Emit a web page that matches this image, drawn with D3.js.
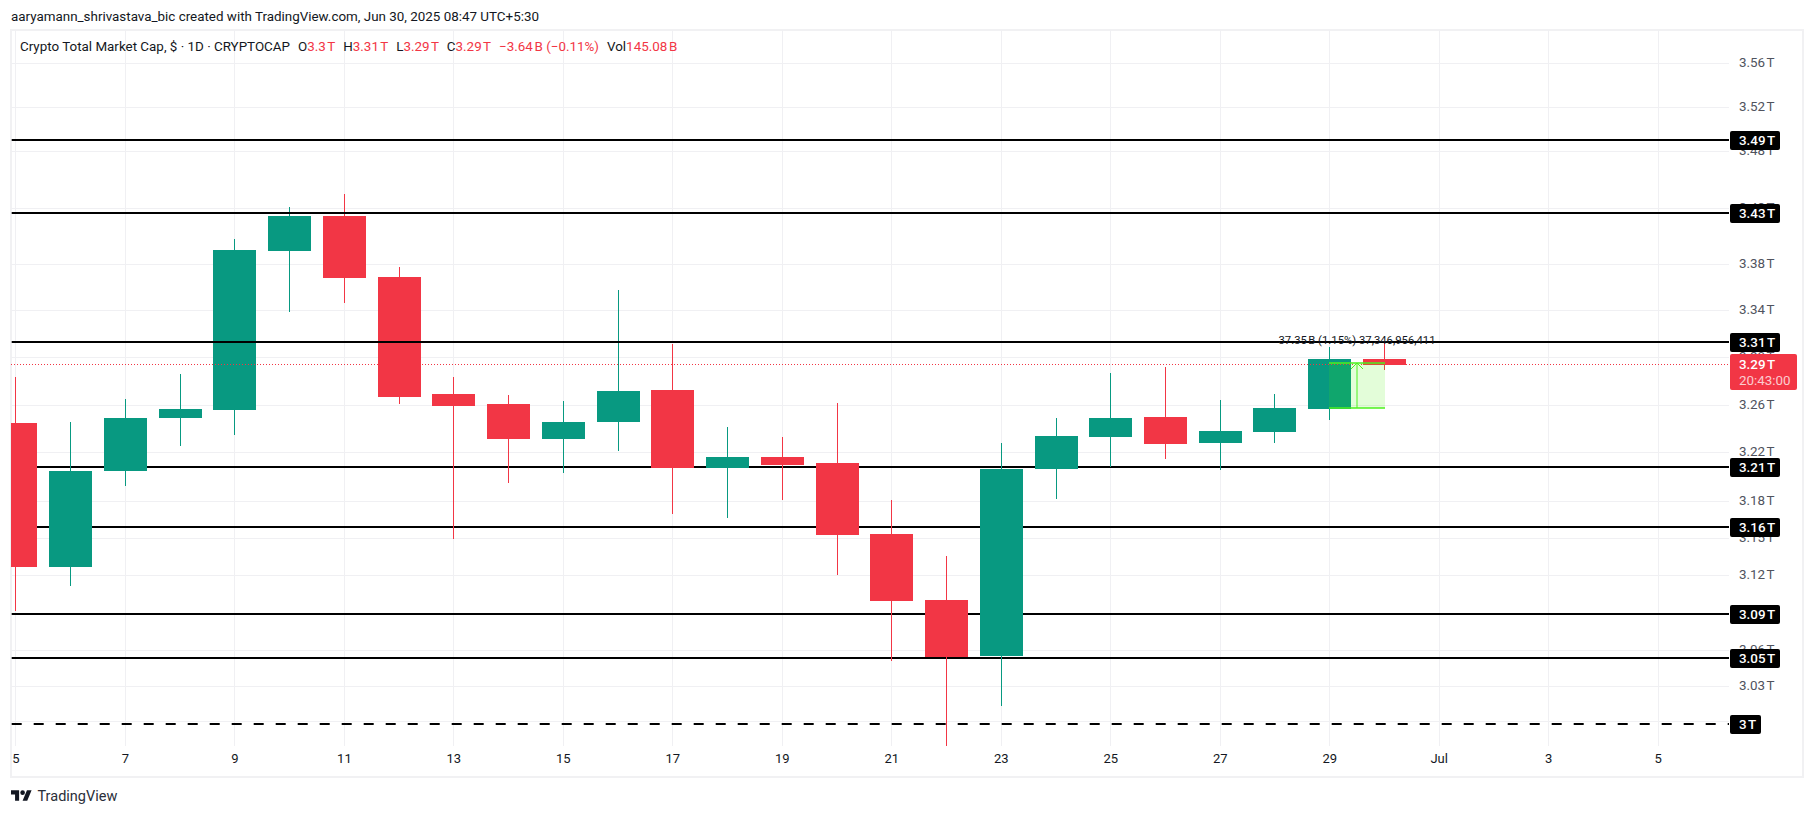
<!DOCTYPE html>
<html>
<head>
<meta charset="utf-8">
<title>Crypto Total Market Cap</title>
<script src="https://cdn.jsdelivr.net/npm/d3@7"></script>
<style>
html, body { margin: 0; padding: 0; background: #fff; overflow: hidden; }
svg { display: block; }
text { font-family: Roboto, "Liberation Sans", sans-serif; }
</style>
</head>
<body>
<script>
// candles, one per day of June 2025 (values in trillions)
var days   = [5, 6, 7, 8, 9, 10, 11, 12, 13, 14, 15, 16, 17, 18, 19, 20, 21, 22, 23, 24, 25, 26, 27, 28, 29, 30];
var opens  = [3.2430, 3.1243, 3.2030, 3.2473, 3.2540, 3.3908, 3.4217, 3.3681, 3.2675, 3.2590, 3.2296, 3.2439, 3.2709, 3.2056, 3.2146, 3.2096, 3.1511, 3.0977, 3.0531, 3.2046, 3.2313, 3.2481, 3.2263, 3.2355, 3.2548, 3.2972];
var highs  = [3.2819, 3.2439, 3.2632, 3.2845, 3.4014, 3.4297, 3.4412, 3.3768, 3.2819, 3.2666, 3.2616, 3.3568, 3.3102, 3.2397, 3.2313, 3.2599, 3.1790, 3.1332, 3.2263, 3.2473, 3.2853, 3.2904, 3.2624, 3.2675, 3.3076, 3.3110];
var lows   = [3.0891, 3.1090, 3.1906, 3.2238, 3.2330, 3.3377, 3.3455, 3.2590, 3.1470, 3.1930, 3.2014, 3.2196, 3.1675, 3.1642, 3.1790, 3.1178, 3.0492, 2.9828, 3.0138, 3.1798, 3.2063, 3.2130, 3.2038, 3.2263, 3.2455, 3.2878];
var closes = [3.1243, 3.2030, 3.2473, 3.2548, 3.3917, 3.4217, 3.3672, 3.2649, 3.2573, 3.2296, 3.2439, 3.2700, 3.2056, 3.2146, 3.2080, 3.1503, 3.0969, 3.0523, 3.2046, 3.2321, 3.2473, 3.2254, 3.2363, 3.2556, 3.2972, 3.2921];

// price axis, the real tick positions differ from the rounded labels
var tickValues = [3.5598, 3.5194, 3.4794, 3.4291, 3.3792, 3.3391, 3.2987, 3.2580, 3.2185, 3.1779, 3.1476, 3.1176, 3.0576, 3.0292, 3.0019];
var tickLabels = ["3.56", "3.52", "3.48", "3.43", "3.38", "3.34", "3.30", "3.26", "3.22", "3.18", "3.15", "3.12", "3.06", "3.03", "3"];

// date axis
var dateTicks = [5, 7, 9, 11, 13, 15, 17, 19, 21, 23, 25, 27, 29, 31, 33, 35];
var dateLabels = ["5", "7", "9", "11", "13", "15", "17", "19", "21", "23", "25", "27", "29", "Jul", "3", "5"];

// horizontal levels drawn by the author
var levelValues = [3.4900, 3.4244, 3.3118, 3.2063, 3.1568, 3.0865, 3.0517, 3.0000];
var levelLabels = ["3.49", "3.43", "3.31", "3.21", "3.16", "3.09", "3.05", "3"];
var levelsOnTop = ["3.43", "3.31"];
var dashedLevels = ["3"];

var lastPrice = 3.2927;
var lastPriceLabel = "3.29";
var countdown = "20:43:00";

// measure tool on the last two days
var measureDays = [29, 30];
var measurePrices = [3.2554, 3.2935];
var measureText = "37.35\u202fB (1.15%) 37,346,956,411";

var headerText = "aaryamann_shrivastava_bic created with TradingView.com, Jun 30, 2025 08:47 UTC+5:30";
var legendTitle = "Crypto Total Market Cap, $ \u00b7 1D \u00b7 CRYPTOCAP";
var legendNames = ["O", "H", "L", "C", "", "Vol"];
var legendValues = ["3.3\u202fT", "3.31\u202fT", "3.29\u202fT", "3.29\u202fT", "\u22123.64\u202fB (\u22120.11%)", "145.08\u202fB"];

var GREEN = "#089981";
var RED = "#f23645";
var GRID = "#f0f0f3";
var TEXT = "#131722";
var AXIS_TEXT = "#50535e";

var w = 1814;
var h = 816;
var plotLeft = 11;
var plotRight = 1729;
var plotTop = 30;
var plotBottom = 746;
var bodyWidth = 43;
var fontSize = 13.4;

var svg = d3.select("body").append("svg")
    .attr("width", w)
    .attr("height", h);

svg.append("rect")
    .attr("width", w)
    .attr("height", h)
    .attr("fill", "#fff");

// frame around the chart
svg.append("rect")
    .attr("x", 11)
    .attr("y", 30)
    .attr("width", 1792)
    .attr("height", 747)
    .attr("fill", "none")
    .attr("stroke", "#f1f1f3")
    .attr("stroke-width", 2);

var x = d3.scaleLinear().domain([5, 35]).range([15.46, 1657.66]);
var y = d3.scaleLog().domain([3, 3.56]).range([723.7, 63.1]);

function px(day) {
    return Math.round(x(day)) + 0.5;
}

function py(value) {
    return Math.round(y(value));
}

svg.append("defs").append("clipPath")
    .attr("id", "plot-clip")
    .append("rect")
    .attr("x", plotLeft)
    .attr("y", plotTop)
    .attr("width", plotRight - plotLeft)
    .attr("height", plotBottom - plotTop);

// grid
var gridY = svg.append("g")
    .attr("transform", "translate(" + plotRight + ",0)")
    .call(d3.axisLeft(y).tickValues(tickValues).tickSize(plotRight - plotLeft).tickFormat(""));
var gridX = svg.append("g")
    .attr("transform", "translate(0," + plotTop + ")")
    .call(d3.axisBottom(x).tickValues(dateTicks).tickSize(plotBottom - plotTop).tickFormat(""));
[gridY, gridX].forEach(function(g) {
    g.select(".domain").remove();
    g.selectAll("line")
        .attr("stroke", GRID)
        .attr("shape-rendering", "crispEdges");
});

// price axis
var axisY = svg.append("g")
    .attr("transform", "translate(1730,0)")
    .call(d3.axisRight(y)
        .tickValues(tickValues)
        .tickSize(0)
        .tickPadding(9)
        .tickFormat(function(d, i) { return tickLabels[i] + "\u202fT"; }));
axisY.select(".domain").remove();
axisY.selectAll("text")
    .attr("dy", ".25em")
    .attr("font-size", fontSize)
    .attr("font-family", "Roboto")
    .attr("fill", AXIS_TEXT);

// date axis
var axisX = svg.append("g")
    .attr("transform", "translate(0,754)")
    .call(d3.axisBottom(x)
        .tickValues(dateTicks)
        .tickSize(0)
        .tickPadding(0)
        .tickFormat(function(d, i) { return dateLabels[i]; }));
axisX.select(".domain").remove();
axisX.selectAll("text")
    .attr("font-size", 13)
    .attr("font-family", "Roboto")
    .attr("fill", TEXT);

var plot = svg.append("g").attr("clip-path", "url(#plot-clip)");

function drawLevels(labels) {
    var levels = levelLabels.filter(function(d) { return labels.indexOf(d) >= 0; });
    plot.selectAll(null)
        .data(levels)
        .enter()
        .append("line")
        .attr("x1", plotLeft + 0.7)
        .attr("x2", plotRight)
        .attr("y1", function(d) { return py(levelValues[levelLabels.indexOf(d)]); })
        .attr("y2", function(d) { return py(levelValues[levelLabels.indexOf(d)]); })
        .attr("stroke", "#000")
        .attr("stroke-width", 2)
        .attr("stroke-dasharray", function(d) { return dashedLevels.indexOf(d) >= 0 ? "10 12" : null; });
}

drawLevels(levelLabels.filter(function(d) { return levelsOnTop.indexOf(d) < 0; }));

function candleColor(d, i) {
    return closes[i] >= opens[i] ? GREEN : RED;
}

// wicks and bodies
plot.selectAll(".wick")
    .data(days)
    .enter()
    .append("rect")
    .attr("class", "wick")
    .attr("x", function(d) { return px(d) - 0.5; })
    .attr("width", 1)
    .attr("y", function(d, i) { return py(highs[i]); })
    .attr("height", function(d, i) { return py(lows[i]) - py(highs[i]); })
    .attr("fill", candleColor);

plot.selectAll(".body")
    .data(days)
    .enter()
    .append("rect")
    .attr("class", "body")
    .attr("x", function(d) { return px(d) - bodyWidth / 2; })
    .attr("width", bodyWidth)
    .attr("y", function(d, i) { return Math.min(py(opens[i]), py(closes[i])); })
    .attr("height", function(d, i) { return Math.abs(py(opens[i]) - py(closes[i])); })
    .attr("fill", candleColor);

drawLevels(levelsOnTop);

// last price line
plot.append("line")
    .attr("x1", plotLeft)
    .attr("x2", plotRight)
    .attr("y1", py(lastPrice) + 0.5)
    .attr("y2", py(lastPrice) + 0.5)
    .attr("stroke", RED)
    .attr("stroke-width", 1)
    .attr("stroke-dasharray", "1 2");

// measure tool
var mx0 = px(measureDays[0]) - 0.5;
var mx1 = px(measureDays[1]) + 0.5;
var myTop = py(measurePrices[1]);
var myBottom = py(measurePrices[0]);
var mxMid = Math.round((mx0 + mx1) / 2);
var mGreen = "#4cf01e";

svg.append("rect")
    .attr("x", mx0)
    .attr("y", myTop)
    .attr("width", mx1 - mx0)
    .attr("height", myBottom - myTop)
    .attr("fill", "rgba(70,240,0,0.15)");
svg.selectAll(".measure-edge")
    .data([myTop, myBottom])
    .enter()
    .append("line")
    .attr("class", "measure-edge")
    .attr("x1", mx0)
    .attr("x2", mx1)
    .attr("y1", function(d) { return d; })
    .attr("y2", function(d) { return d; })
    .attr("stroke", mGreen)
    .attr("stroke-width", 1.3);
svg.append("path")
    .attr("d", d3.line()([[mxMid, myBottom], [mxMid, myTop]]))
    .attr("stroke", mGreen)
    .attr("fill", "none");
svg.append("path")
    .attr("d", d3.line()([[mxMid - 6, myTop + 6], [mxMid, myTop], [mxMid + 6, myTop + 6]]))
    .attr("stroke", mGreen)
    .attr("fill", "none");
svg.append("text")
    .attr("x", mxMid)
    .attr("y", py(3.3118) + 2)
    .attr("text-anchor", "middle")
    .attr("font-size", 11.3)
    .attr("fill", TEXT)
    .text(measureText);

// level labels on the price axis
var levelTags = svg.selectAll(".level-tag")
    .data(levelLabels)
    .enter()
    .append("g")
    .attr("class", "level-tag")
    .attr("transform", function(d, i) { return "translate(1730," + py(levelValues[i]) + ")"; });
levelTags.append("rect")
    .attr("y", -9)
    .attr("height", 19)
    .attr("width", function(d) { return d === "3" ? 31 : 50; })
    .attr("rx", 2)
    .attr("fill", "#000");
levelTags.append("text")
    .attr("x", 9)
    .attr("y", 0.5)
    .attr("dy", ".35em")
    .attr("font-size", fontSize)
    .attr("font-weight", 500)
    .attr("fill", "#fff")
    .text(function(d) { return d + "\u202fT"; });

// last price label
var lastTag = svg.append("g")
    .attr("transform", "translate(1730," + py(lastPrice) + ")");
lastTag.append("rect")
    .attr("y", -10)
    .attr("width", 67)
    .attr("height", 36)
    .attr("rx", 2)
    .attr("fill", RED);
lastTag.append("text")
    .attr("x", 9)
    .attr("y", 0.5)
    .attr("dy", ".35em")
    .attr("font-size", fontSize)
    .attr("font-weight", 500)
    .attr("fill", "#fff")
    .text(lastPriceLabel + "\u202fT");
lastTag.append("text")
    .attr("x", 9)
    .attr("y", 16.5)
    .attr("dy", ".35em")
    .attr("font-size", fontSize)
    .attr("fill", "rgba(255,255,255,0.75)")
    .text(countdown);

// header
svg.append("text")
    .attr("x", 11)
    .attr("y", 16)
    .attr("dy", ".35em")
    .attr("font-size", fontSize)
    .attr("fill", TEXT)
    .text(headerText);

// legend line
var legend = svg.append("text")
    .attr("x", 20)
    .attr("y", 46)
    .attr("dy", ".35em")
    .attr("font-size", fontSize)
    .attr("fill", TEXT);
legend.append("tspan").text(legendTitle);
legendNames.forEach(function(name, i) {
    if (name !== "") {
        legend.append("tspan")
            .attr("dx", 8)
            .text(name);
    }
    legend.append("tspan")
        .attr("dx", name === "" ? 8 : 0)
        .attr("fill", RED)
        .text(legendValues[i]);
});

// logo and name at the bottom
var logo = svg.append("g")
    .attr("transform", "translate(11,788) scale(0.58)")
    .attr("fill", TEXT);
logo.append("path").attr("d", "M14 22H7V11H0V4h14v18zM28 22h-8l7.5-18h8L28 22z");
logo.append("circle").attr("cx", 20).attr("cy", 8).attr("r", 4);
svg.append("text")
    .attr("x", 37.5)
    .attr("y", 795.5)
    .attr("dy", ".35em")
    .attr("font-size", 14.5)
    .attr("fill", "#2a2e39")
    .text("TradingView");
</script>
</body>
</html>
